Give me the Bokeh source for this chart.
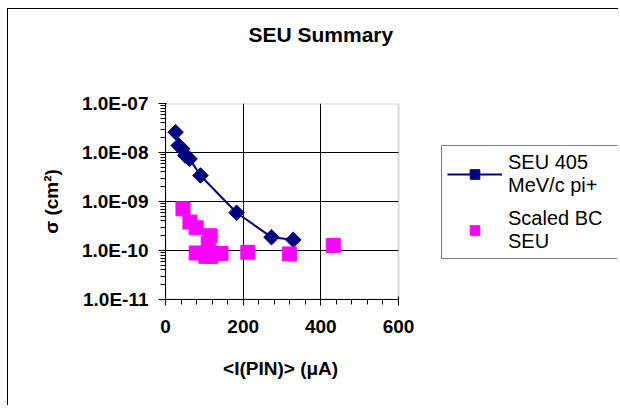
from bokeh.plotting import figure
from bokeh.models import (CustomJSTickFormatter, FixedTicker, Legend, LegendItem, Range1d,
                          BoxAnnotation)
from bokeh.embed import file_html
from bokeh.resources import INLINE

# ---- data ----
seu_current = [26, 34, 43, 51, 62, 90, 183, 273, 329]
seu_sigma = [2.6e-8, 1.39e-8, 1.19e-8, 8.7e-9, 7.4e-9, 3.4e-9, 5.9e-10, 1.87e-10, 1.65e-10]

bc_current = [45, 63, 79, 115, 110, 79, 104, 117, 143, 212, 319, 432]
bc_sigma = [7.1e-10, 3.8e-10, 2.9e-10, 2.0e-10, 1.4e-10, 8.9e-11, 7.6e-11, 7.6e-11,
            8.7e-11, 9.2e-11, 8.5e-11, 1.26e-10]

x_ticks = [0, 200, 400, 600]
x_minor = list(range(0, 601, 40))
y_ticks = [1e-11, 1e-10, 1e-9, 1e-8, 1e-7]
y_minor = [k * 10.0 ** e for e in range(-11, -7) for k in range(2, 10)]

FONT = "Liberation Sans"

# plot area is 233 px for 0..600; the frame is widened to hold the legend on the right
AREA_W = 233
FRAME_W = 452
x_end = x_ticks[-1] * FRAME_W / AREA_W

p = figure(frame_width=FRAME_W, frame_height=196, y_axis_type="log",
           x_range=Range1d(x_ticks[0], x_end), y_range=Range1d(y_ticks[0], y_ticks[-1]),
           output_backend="svg", toolbar_location=None,
           min_border_left=157, min_border_right=1,
           min_border_top=94, min_border_bottom=106,
           title="SEU Summary\n\u00a0\n\u00a0")
p.margin = (8, 0, 0, 7)
p.styles = {"border-left": "1px solid black", "border-top": "1px solid black"}
p.background_fill_color = "white"
p.border_fill_color = "white"
p.outline_line_color = None

p.title.align = "left"
p.title.offset = 83
p.title.standoff = 4
p.title.text_font = FONT
p.title.text_font_style = "bold"
p.title.text_font_size = "21px"
p.title.text_line_height = 1.2
p.title.text_color = "black"

# axes
xt = FixedTicker(ticks=x_ticks, minor_ticks=x_minor)
yt = FixedTicker(ticks=y_ticks, minor_ticks=y_minor)
p.xaxis.ticker = xt
p.yaxis.ticker = yt
p.xaxis.bounds = (x_ticks[0], x_ticks[-1])
p.xgrid.ticker = FixedTicker(ticks=x_ticks[1:-1])
p.xgrid.grid_line_color = "black"
p.xgrid.grid_line_width = 1
p.ygrid.visible = False
p.yaxis.formatter = CustomJSTickFormatter(code="""
const e = Math.round(Math.log10(tick));
return "1.0E" + (e < 0 ? "-" : "+") + String(Math.abs(e)).padStart(2, "0");
""")

for ax in (p.xaxis, p.yaxis):
    ax.axis_line_color = "black"
    ax.major_tick_line_color = "black"
    ax.minor_tick_line_color = "black"
    ax.major_label_text_font = FONT
    ax.major_label_text_font_style = "bold"
    ax.major_label_text_font_size = "19px"
    ax.major_label_text_color = "black"
    ax.axis_label_text_font = FONT
    ax.axis_label_text_font_style = "bold"
    ax.axis_label_text_font_size = "19px"
    ax.axis_label_text_color = "black"

p.xaxis.major_tick_in = 3
p.xaxis.major_tick_out = 6
p.xaxis.minor_tick_in = 0
p.xaxis.minor_tick_out = 5
p.xaxis.major_label_standoff = 14
# trailing no-break spaces shift the centred label back under the 0..600 plot area
p.xaxis.axis_label = "<I(PIN)> (\u03bcA)" + "\u00a0" * 42
p.xaxis.axis_label_standoff = 22

p.yaxis.major_tick_in = 1
p.yaxis.major_tick_out = 7
p.yaxis.minor_tick_in = 0
p.yaxis.minor_tick_out = 5
p.yaxis.major_label_standoff = 10
p.yaxis.axis_label = "\u03c3 (cm\u00b2)"
p.yaxis.axis_label_standoff = 17

# plot-area border (grey) and horizontal decade grid lines, limited to 0..600
area = BoxAnnotation(left=x_ticks[0], right=x_ticks[-1], bottom=y_ticks[0], top=y_ticks[-1],
                     fill_color=None, fill_alpha=0, line_color="#808080", line_width=2,
                     level="underlay")
p.add_layout(area)
inner_y = y_ticks[1:-1]
p.segment(x0=[x_ticks[0]] * len(inner_y), y0=inner_y,
          x1=[x_ticks[-1]] * len(inner_y), y1=inner_y,
          line_color="black", line_width=1, level="underlay")

# series
line_r = p.line(seu_current, seu_sigma, line_color="#000080", line_width=2)
scat_r = p.scatter(seu_current, seu_sigma, marker="square", size=11, angle=0.785398,
                   fill_color="#000080", line_color="#000080")
bc_r = p.scatter(bc_current, bc_sigma, marker="square", size=14,
                 fill_color="#FF00FF", line_color="#FF00FF")

legend = Legend(items=[LegendItem(label="SEU 405\nMeV/c pi+", renderers=[line_r, scat_r]),
                       LegendItem(label="Scaled BC\nSEU", renderers=[bc_r])],
                location=(276, 40), orientation="vertical")
legend.border_line_color = "black"
legend.border_line_width = 1
legend.background_fill_color = "white"
legend.background_fill_alpha = 1
legend.padding = 5
legend.margin = 0
legend.spacing = 10
legend.glyph_width = 55
legend.glyph_height = 24
legend.label_standoff = 6
legend.label_width = 105
legend.label_height = 24
legend.label_text_font = FONT
legend.label_text_font_size = "20px"
legend.label_text_color = "black"
legend.label_text_line_height = 1.2
p.add_layout(legend)

open("out.html", "w").write(file_html(p, INLINE))
